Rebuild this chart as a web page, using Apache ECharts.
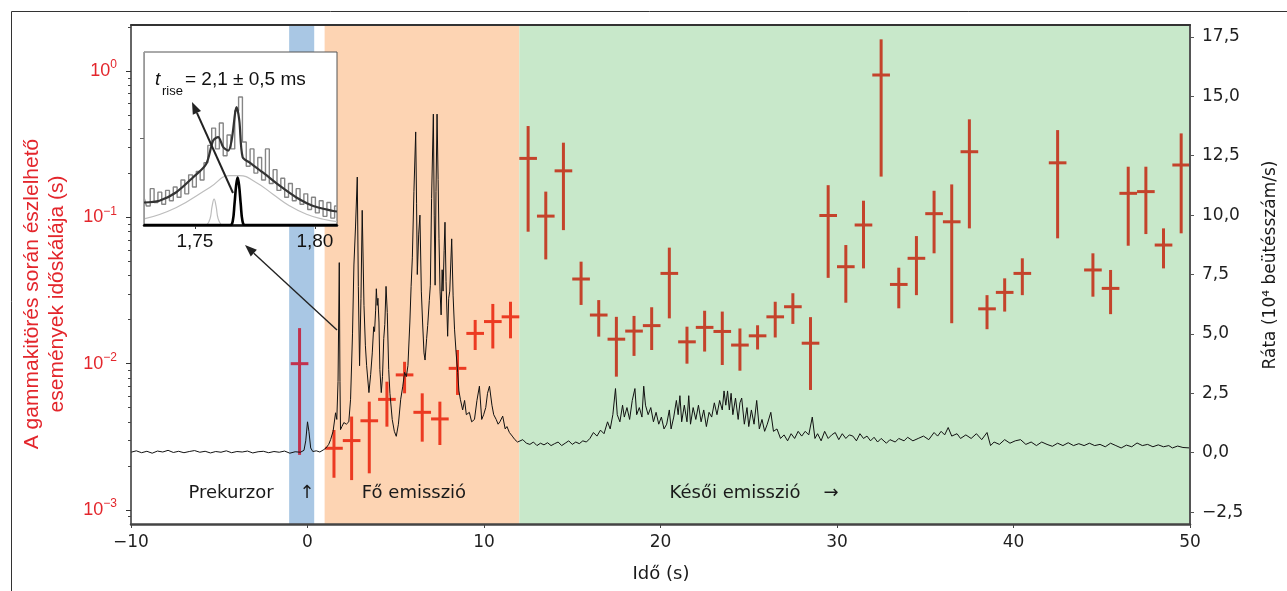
<!DOCTYPE html>
<html>
<head>
<meta charset="utf-8">
<title>Gammakitörés időskálái</title>
<script src="https://cdn.jsdelivr.net/npm/echarts@6/dist/echarts.min.js"></script>
<style>
  html, body { margin: 0; padding: 0; background: #fff; }
  #main { width: 1287px; height: 591px; }
</style>
</head>
<body>
<div id="main"></div>
<script>
// --- adatok ---
// piros keresztek: bin közép (s), időskála (s), alsó és felső hiba (s)
const binT = [-0.45, 1.5, 2.5, 3.5, 4.5, 5.5, 6.5, 7.5, 8.5, 9.5, 10.5, 11.5,
  12.5, 13.5, 14.5, 15.5, 16.5, 17.5, 18.5, 19.5, 20.5, 21.5, 22.5, 23.5, 24.5, 25.5,
  26.5, 27.5, 28.5, 29.5, 30.5, 31.5, 32.5, 33.5, 34.5, 35.5, 36.5, 37.5, 38.5, 39.5,
  40.5, 42.5, 44.5, 45.5, 46.5, 47.5, 48.5, 49.5];
const tau = [0.0100, 0.00264, 0.00298, 0.00407, 0.00570, 0.00838, 0.00465, 0.00419, 0.00929, 0.0161, 0.0194, 0.0209,
  0.253, 0.102, 0.208, 0.0379, 0.0215, 0.0147, 0.0167, 0.0182, 0.0414, 0.0141, 0.0177, 0.0166, 0.0134, 0.0155,
  0.0209, 0.0245, 0.0138, 0.103, 0.0460, 0.0887, 0.940, 0.0348, 0.0525, 0.106, 0.0933, 0.281, 0.0237, 0.0307,
  0.0414, 0.236, 0.0437, 0.0327, 0.146, 0.150, 0.0647, 0.228];
const tauLo = [0.00238, 0.00166, 0.00160, 0.00178, 0.00371, 0.00627, 0.00293, 0.00278, 0.00611, 0.0124, 0.0127, 0.0149,
  0.0798, 0.0516, 0.0818, 0.0252, 0.0153, 0.00815, 0.0113, 0.0124, 0.0204, 0.0100, 0.0121, 0.00979, 0.00895, 0.0125,
  0.0151, 0.0187, 0.00661, 0.0386, 0.0261, 0.0448, 0.190, 0.0239, 0.0294, 0.0568, 0.0189, 0.0841, 0.0172, 0.0227,
  0.0294, 0.0719, 0.0287, 0.0218, 0.0640, 0.0769, 0.0448, 0.0778];
const tauHi = [0.0175, 0.00352, 0.00435, 0.00550, 0.00753, 0.0103, 0.00627, 0.00550, 0.0124, 0.0199, 0.0256, 0.0265,
  0.421, 0.150, 0.324, 0.0498, 0.0272, 0.0209, 0.0212, 0.0243, 0.0621, 0.0179, 0.0230, 0.0227, 0.0174, 0.0183,
  0.0265, 0.0303, 0.0208, 0.166, 0.0647, 0.130, 1.648, 0.0453, 0.0745, 0.152, 0.168, 0.468, 0.0294, 0.0383,
  0.0525, 0.395, 0.0568, 0.0437, 0.222, 0.222, 0.0841, 0.375];

// fénygörbe [idő (s), ráta (10^4 beütés/s)]
const lcPre = [[-10, 0.02], [-9.7, 0.08], [-9.4, 0.0], [-9.1, 0.06], [-8.8, -0.02], [-8.5, 0.07], [-8.2, 0.03],
  [-7.9, 0.1], [-7.6, 0.01], [-7.3, 0.06], [-7.0, 0.0], [-6.7, 0.05], [-6.4, 0.09], [-6.1, 0.02], [-5.8, 0.06],
  [-5.5, -0.01], [-5.2, 0.05], [-4.9, 0.02], [-4.6, 0.08], [-4.3, 0.0], [-4.0, 0.05], [-3.7, 0.03], [-3.4, 0.07],
  [-3.1, -0.01], [-2.8, 0.04], [-2.5, 0.06], [-2.2, 0.0], [-1.9, 0.05], [-1.6, 0.02], [-1.3, 0.07], [-1.0, -0.02],
  [-0.7, 0.04], [-0.4, 0.02], [-0.2, 0.1], [-0.1, 0.5], [0.0, 1.3], [0.08, 0.9], [0.18, 0.2], [0.3, 0.05],
  [0.5, 0.08], [0.7, 0.03], [0.9, 0.12], [1.05, 0.2], [1.2, 0.35], [1.31, 0.55], [1.45, 0.9], [1.59, 1.68],
  [1.66, 1.4], [1.73, 3.0], [1.8, 8.0], [1.84, 3.0], [1.87, 0.97]];
const lcMain = [[1.95, 1.1], [2.06, 1.27], [2.2, 1.2], [2.34, 1.3], [2.44, 2.25], [2.55, 5.0], [2.63, 7.9],
  [2.72, 9.5], [2.82, 11.6], [2.88, 7.0], [2.95, 3.66], [3.03, 6.5], [3.1, 10.2], [3.2, 6.2], [3.28, 4.5],
  [3.35, 3.66], [3.48, 2.53], [3.58, 3.3], [3.67, 4.2], [3.75, 5.3], [3.8, 5.1], [3.86, 6.0], [3.9, 6.9],
  [3.95, 6.2], [3.99, 6.5], [4.05, 5.5], [4.1, 3.5], [4.18, 2.53], [4.25, 3.2], [4.32, 4.8], [4.38, 5.4],
  [4.45, 7.0], [4.52, 5.9], [4.6, 3.5], [4.67, 2.5], [4.8, 1.4], [4.92, 0.9], [5.03, 0.69], [5.15, 1.2],
  [5.28, 2.25], [5.4, 2.8], [5.5, 3.38], [5.6, 3.2], [5.69, 3.66], [5.8, 5.5], [5.87, 7.0], [5.94, 8.2],
  [6.03, 11.0], [6.13, 13.5], [6.18, 10.5], [6.22, 7.5], [6.3, 9.2], [6.37, 10.0], [6.45, 6.8], [6.52, 5.5],
  [6.6, 4.2], [6.66, 3.9], [6.75, 4.8], [6.81, 5.35], [6.9, 6.4], [6.96, 7.05], [7.03, 10.7], [7.13, 14.25],
  [7.18, 10.0], [7.23, 7.05], [7.28, 11.0], [7.34, 14.25], [7.4, 11.5], [7.45, 9.0], [7.51, 6.8], [7.57, 5.8],
  [7.63, 7.7], [7.68, 6.8], [7.74, 8.5], [7.79, 9.7], [7.85, 7.2], [7.94, 4.9], [8.0, 6.5], [8.06, 6.8],
  [8.17, 9.0], [8.25, 6.6], [8.33, 5.2], [8.42, 4.2], [8.51, 3.38], [8.58, 2.6], [8.66, 2.25], [8.79, 1.8],
  [8.9, 2.2], [9.0, 1.6], [9.17, 1.7], [9.3, 1.3], [9.46, 1.4], [9.6, 2.2], [9.74, 2.8], [9.87, 1.4],
  [9.98, 1.6], [10.1, 1.9], [10.2, 2.5], [10.31, 2.8], [10.45, 2.0], [10.55, 1.6], [10.69, 1.4], [10.8, 1.2],
  [10.9, 1.3], [11.06, 1.54], [11.2, 1.0], [11.3, 1.1], [11.44, 0.85], [11.6, 0.7], [11.75, 0.55], [11.9, 0.45],
  [12.0, 0.41]];
const lcLate = [[12.2, 0.55], [12.4, 0.4], [12.6, 0.35], [12.8, 0.45], [13.0, 0.3], [13.2, 0.4], [13.4, 0.33],
  [13.6, 0.42], [13.8, 0.3], [14.0, 0.38], [14.2, 0.45], [14.4, 0.3], [14.6, 0.4], [14.8, 0.5], [15.0, 0.35],
  [15.2, 0.45], [15.4, 0.38], [15.6, 0.5], [15.8, 0.45], [16.0, 0.6], [16.2, 0.85], [16.4, 0.7], [16.6, 0.95],
  [16.8, 0.8], [17.0, 1.3], [17.15, 1.0], [17.3, 1.6], [17.45, 2.7], [17.55, 1.6], [17.7, 1.3], [17.85, 2.0],
  [17.95, 1.5], [18.1, 1.9], [18.25, 1.4], [18.4, 2.2], [18.55, 2.7], [18.65, 1.6], [18.8, 1.9], [18.95, 1.5],
  [19.05, 2.8], [19.15, 2.0], [19.3, 1.6], [19.45, 1.9], [19.6, 1.3], [19.75, 1.7], [19.9, 1.2], [20.05, 1.5],
  [20.2, 1.0], [20.35, 1.2], [20.5, 1.8], [20.6, 1.0], [20.75, 1.5], [20.9, 2.2], [21.0, 1.6], [21.1, 2.4],
  [21.2, 1.3], [21.35, 2.0], [21.5, 1.3], [21.6, 2.4], [21.7, 1.2], [21.85, 1.9], [22.0, 1.4], [22.15, 2.0],
  [22.3, 1.3], [22.45, 1.8], [22.6, 1.1], [22.75, 1.7], [22.9, 1.5], [23.05, 2.1], [23.2, 1.6], [23.35, 2.2],
  [23.5, 1.8], [23.6, 2.6], [23.7, 2.0], [23.8, 2.6], [23.9, 1.8], [24.0, 2.5], [24.1, 1.6], [24.25, 2.3],
  [24.4, 1.4], [24.5, 2.1], [24.6, 2.3], [24.75, 1.2], [24.9, 1.9], [25.0, 1.1], [25.15, 1.8], [25.3, 1.2],
  [25.45, 2.2], [25.6, 1.0], [25.75, 1.4], [25.9, 0.9], [26.05, 1.2], [26.25, 1.7], [26.4, 0.9], [26.6, 1.0],
  [26.8, 0.6], [27.0, 0.75], [27.2, 0.5], [27.4, 0.8], [27.6, 0.6], [27.8, 0.9], [28.0, 0.7], [28.2, 0.9],
  [28.4, 0.75], [28.6, 1.5], [28.75, 0.6], [28.9, 0.8], [29.1, 0.5], [29.3, 0.9], [29.5, 0.6], [29.7, 0.75],
  [29.9, 0.85], [30.1, 0.55], [30.3, 0.8], [30.5, 0.6], [30.7, 0.75], [30.9, 0.7], [31.1, 0.5], [31.3, 0.8],
  [31.5, 0.6], [31.7, 0.7], [31.9, 0.5], [32.1, 0.65], [32.3, 0.45], [32.5, 0.6], [32.8, 0.4], [33.0, 0.55],
  [33.3, 0.45], [33.5, 0.6], [33.8, 0.5], [34.0, 0.65], [34.3, 0.5], [34.6, 0.6], [34.9, 0.7], [35.2, 0.55],
  [35.5, 0.85], [35.7, 0.7], [35.9, 0.9], [36.1, 0.75], [36.3, 1.06], [36.5, 0.7], [36.8, 0.8], [37.0, 0.6],
  [37.3, 0.75], [37.6, 0.6], [37.9, 0.8], [38.2, 0.55], [38.5, 0.85], [38.7, 0.3], [38.9, 0.45], [39.2, 0.35],
  [39.5, 0.55], [39.8, 0.4], [40.1, 0.5], [40.4, 0.55], [40.7, 0.35], [41.0, 0.45], [41.3, 0.3], [41.6, 0.45],
  [41.9, 0.35], [42.2, 0.27], [42.5, 0.4], [42.8, 0.3], [43.1, 0.42], [43.4, 0.3], [43.7, 0.38], [44.0, 0.3],
  [44.3, 0.4], [44.6, 0.3], [44.9, 0.35], [45.2, 0.25], [45.5, 0.4], [45.8, 0.3], [46.1, 0.2], [46.4, 0.32],
  [46.7, 0.25], [47.0, 0.41], [47.3, 0.3], [47.6, 0.35], [47.9, 0.25], [48.2, 0.33], [48.5, 0.25], [48.8, 0.3],
  [49.0, 0.2], [49.3, 0.28], [49.6, 0.22], [50.0, 0.2]];

// betét: 1,73-1,81 s részlet
const insetHist = [[1.7290, 1.5], [1.7306, 1.1], [1.7322, 2.1], [1.7338, 1.3], [1.7354, 1.9], [1.7370, 1.2],
  [1.7386, 2.0], [1.7402, 1.4], [1.7418, 2.2], [1.7434, 1.6], [1.7450, 2.6], [1.7466, 1.8], [1.7482, 2.9],
  [1.7498, 2.2], [1.7514, 3.1], [1.7530, 2.6], [1.7546, 3.6], [1.7562, 4.6], [1.7578, 5.6], [1.7594, 4.4],
  [1.7610, 5.9], [1.7626, 4.0], [1.7642, 5.2], [1.7658, 4.4], [1.7674, 6.6], [1.7690, 7.4], [1.7706, 4.8],
  [1.7722, 3.4], [1.7738, 4.4], [1.7754, 3.0], [1.7770, 3.9], [1.7786, 2.6], [1.7802, 4.4], [1.7818, 2.4],
  [1.7834, 3.2], [1.7850, 2.0], [1.7866, 2.7], [1.7882, 1.6], [1.7898, 2.4], [1.7914, 1.4], [1.7930, 2.1],
  [1.7946, 1.2], [1.7962, 1.8], [1.7978, 0.9], [1.7994, 1.6], [1.8010, 0.7], [1.8026, 1.4], [1.8042, 0.5],
  [1.8058, 1.3], [1.8074, 0.4], [1.8090, 1.1]];
const insetFit = [[1.7288, 1.3], [1.7352, 1.4], [1.7421, 1.88], [1.7492, 2.75], [1.7547, 3.53], [1.7576, 4.88],
  [1.7597, 5.08], [1.7618, 4.5], [1.7639, 4.3], [1.7653, 4.88], [1.7674, 6.82], [1.7685, 6.05], [1.7699, 3.91],
  [1.7727, 3.62], [1.7783, 3.04], [1.7853, 2.27], [1.7923, 1.59], [1.7993, 1.1], [1.8077, 0.81], [1.8092, 0.78]];
const insetBroad = [[1.7288, 0.35], [1.7421, 1.0], [1.7562, 2.17], [1.7646, 2.85], [1.7685, 2.85], [1.7755, 2.46],
  [1.7825, 1.78], [1.7895, 1.1], [1.7965, 0.62], [1.8035, 0.33], [1.8092, 0.2]];
const insetSmall = [[1.7550, 0], [1.7563, 0.35], [1.7572, 1.1], [1.7580, 1.49], [1.7588, 1.1], [1.7597, 0.35], [1.7610, 0]];
const insetPulse = [[1.7288, 0], [1.7648, 0], [1.7658, 0.25], [1.7665, 1.2], [1.7672, 2.3], [1.7678, 2.75],
  [1.7684, 2.3], [1.7691, 1.2], [1.7698, 0.25], [1.7708, 0], [1.8092, 0]];

// tengelyek
const rateTicks = [-2.5, 0, 2.5, 5, 7.5, 10, 12.5, 15, 17.5];
const decades = [-3, -2, -1, 0];
const insetTicks = [1.75, 1.80];
const bands = [[-1.04, 0.38], [0.97, 12.0], [12.0, 50]];
const bandColors = ['#a9c7e4', '#fdd4b3', '#c8e8ca'];

const RED = '#e3262c';
const BLACK_FONT = 'DejaVu Sans';
const ARIAL = 'Liberation Sans';

// log tengely kis osztásai
let minorTicks = [];
for (let n = -4; n <= 0; n++) {
  for (let k = 2; k <= 9; k++) {
    let v = n + Math.log10(k);
    if (v > -3.096 && v < 0.315) minorTicks.push(v);
  }
}

let crossData = binT.map((t, i) => [t, Math.log10(tau[i]), Math.log10(tauLo[i]), Math.log10(tauHi[i])]);

function crossColor(t) {
  if (t < 0) return '#c2304c';
  if (t < 12) return '#ec3a22';
  return '#c4432b';
}

function renderCross(params, api) {
  let t = api.value(0);
  let c = api.coord([t, api.value(1)]);
  let lo = api.coord([t, api.value(2)]);
  let hi = api.coord([t, api.value(3)]);
  let a = api.coord([t - 0.5, api.value(1)]);
  let b = api.coord([t + 0.5, api.value(1)]);
  let style = { stroke: crossColor(t), lineWidth: 3 };
  return {
    type: 'group',
    children: [
      { type: 'line', shape: { x1: c[0], y1: hi[1], x2: c[0], y2: lo[1] }, style: style },
      { type: 'line', shape: { x1: a[0], y1: c[1], x2: b[0], y2: c[1] }, style: style }
    ]
  };
}

function minusFmt(v) {
  return v < 0 ? '\u2212' + Math.abs(v) : String(v);
}

function arrow(x1, y1, x2, y2, w) {
  let dx = x2 - x1, dy = y2 - y1, len = Math.hypot(dx, dy);
  let ux = dx / len, uy = dy / len;
  let bx = x2 - ux * 12, by = y2 - uy * 12;
  return [
    { type: 'line', silent: true, z: 30, shape: { x1: x1, y1: y1, x2: bx, y2: by }, style: { stroke: '#222', lineWidth: w } },
    { type: 'polygon', silent: true, z: 30,
      shape: { points: [[x2, y2], [bx - uy * 4.5, by + ux * 4.5], [bx + uy * 4.5, by - ux * 4.5]] },
      style: { fill: '#222' } }
  ];
}

function txt(text, x, y, font, color, rot, align) {
  return {
    type: 'text', silent: true, z: 30, x: x, y: y, rotation: rot || 0,
    style: { text: text, font: font, fill: color, align: align || 'center', verticalAlign: 'middle',
      textAlign: align || 'center', textVerticalAlign: 'middle' }
  };
}

let chart = echarts.init(document.getElementById('main'));

let option = {
  animation: false,
  grid: [
    { left: 131, right: 97, top: 25, bottom: 67 },
    { left: 144, top: 52, width: 193, height: 173 }
  ],
  xAxis: [
    {
      gridIndex: 0, type: 'value', position: 'bottom', min: -10, max: 50, interval: 10, z: 10,
      axisLine: { onZero: false, lineStyle: { color: '#444', width: 2.5 } },
      axisTick: { length: 4, lineStyle: { color: '#444' } },
      axisLabel: { formatter: minusFmt, margin: 10, fontFamily: BLACK_FONT, fontSize: 17, color: '#1f1f1f' },
      splitLine: { show: false }
    },
    {
      gridIndex: 0, type: 'value', position: 'top', min: -10, max: 50, z: 10,
      axisLine: { onZero: false, lineStyle: { color: '#333', width: 2 } },
      axisTick: { show: false }, axisLabel: { show: false }, splitLine: { show: false }
    },
    {
      gridIndex: 1, type: 'value', min: 1.7288, max: 1.8092, z: 12,
      axisLine: { onZero: false, lineStyle: { color: '#111', width: 2.5 } },
      axisTick: { customValues: insetTicks, length: 4, lineStyle: { color: '#333' } },
      axisLabel: { customValues: insetTicks, formatter: v => v.toFixed(2).replace('.', ','),
        margin: 7, fontFamily: ARIAL, fontSize: 19, color: '#111' },
      splitLine: { show: false }
    }
  ],
  yAxis: [
    {
      gridIndex: 0, type: 'value', position: 'left', min: -3.096, max: 0.315, z: 10,
      axisLine: { show: true, onZero: false, lineStyle: { color: '#333', width: 1.5 } },
      axisTick: { show: true, customValues: decades, length: 5, lineStyle: { color: '#333' } },
      axisLabel: {
        customValues: decades, margin: 14,
        formatter: v => '{b|10}{s|' + (Math.round(v) === 0 ? '0' : '\u2212' + Math.abs(Math.round(v))) + '}',
        rich: {
          b: { fontFamily: ARIAL, fontSize: 18, color: RED },
          s: { fontFamily: ARIAL, fontSize: 12, color: RED, padding: [0, 0, 12, 0] }
        }
      },
      splitLine: { show: false }
    },
    {
      gridIndex: 0, type: 'value', position: 'right', min: -3, max: 18, z: 10,
      axisLine: { show: true, onZero: false, lineStyle: { color: '#555', width: 2 } },
      axisTick: { show: true, customValues: rateTicks, length: 4, lineStyle: { color: '#555' } },
      axisLabel: {
        customValues: rateTicks, margin: 12, fontFamily: BLACK_FONT, fontSize: 17, color: '#1f1f1f',
        formatter: v => (v < 0 ? '\u2212' : '') + Math.abs(v).toFixed(1).replace('.', ',')
      },
      splitLine: { show: false }
    },
    {
      gridIndex: 0, type: 'value', position: 'left', min: -3.096, max: 0.315, z: 10,
      axisLine: { show: false, onZero: false },
      axisTick: { show: true, customValues: minorTicks, length: 3, lineStyle: { color: '#444' } },
      axisLabel: { show: false },
      splitLine: { show: false }
    },
    {
      gridIndex: 1, type: 'value', min: 0, max: 10, z: 12,
      axisLine: { show: true, onZero: false, lineStyle: { color: '#999', width: 1 } },
      axisTick: { show: true, customValues: [5], length: 4, lineStyle: { color: '#666' } },
      axisLabel: { show: false },
      splitLine: { show: false }
    }
  ],
  series: [
    {
      name: 'ráta', type: 'line', xAxisIndex: 0, yAxisIndex: 1, z: 3,
      data: lcPre.concat(lcMain, lcLate),
      showSymbol: false, lineStyle: { color: '#111', width: 1 },
      markArea: {
        silent: true,
        data: bands.map((b, i) => [{ xAxis: b[0], itemStyle: { color: bandColors[i] } }, { xAxis: b[1] }])
      }
    },
    {
      name: 'időskála', type: 'custom', xAxisIndex: 0, yAxisIndex: 0, z: 2,
      renderItem: renderCross,
      encode: { x: 0, y: [1, 2, 3] },
      data: crossData
    },
    {
      type: 'line', xAxisIndex: 2, yAxisIndex: 3, z: 10, data: insetBroad, smooth: 0.5,
      showSymbol: false, lineStyle: { color: '#bdbdbd', width: 1.2 }
    },
    {
      type: 'line', xAxisIndex: 2, yAxisIndex: 3, z: 10, data: insetSmall, smooth: 0.5,
      showSymbol: false, lineStyle: { color: '#bdbdbd', width: 1.2 }
    },
    {
      type: 'line', xAxisIndex: 2, yAxisIndex: 3, z: 11, data: insetHist, step: 'middle',
      showSymbol: false, lineStyle: { color: '#858585', width: 1.4 }
    },
    {
      type: 'line', xAxisIndex: 2, yAxisIndex: 3, z: 12, data: insetFit, smooth: 0.3,
      showSymbol: false, lineStyle: { color: '#333', width: 2.2 }
    },
    {
      type: 'line', xAxisIndex: 2, yAxisIndex: 3, z: 13, data: insetPulse, smooth: 0.4,
      showSymbol: false, lineStyle: { color: '#000', width: 2.6 }
    }
  ],
  graphic: {
    elements: [
      { type: 'rect', silent: true, z: 0, shape: { x: 11.5, y: 11.5, width: 1400, height: 700 },
        style: { fill: 'none', stroke: '#333', lineWidth: 1 } },
      { type: 'rect', silent: true, z: 3, shape: { x: 144, y: 52, width: 193, height: 173 },
        style: { fill: '#fff', stroke: '#555', lineWidth: 1 } },
      txt('t', 155, 80, 'italic 19px "Liberation Sans"', '#111', 0, 'left'),
      txt('rise', 162, 91, '13px "Liberation Sans"', '#111', 0, 'left'),
      txt('= 2,1 \u00b1 0,5 ms', 185, 80, '19px "Liberation Sans"', '#111', 0, 'left'),
      ...arrow(233, 193, 192, 102, 2),
      ...arrow(337, 330, 245, 245, 1.4),
      txt('Prekurzor', 231, 493, '18px "DejaVu Sans"', '#1a1a1a'),
      txt('\u2191', 307, 493, '18px "DejaVu Sans"', '#1a1a1a'),
      txt('Fő emisszió', 414, 493, '18px "DejaVu Sans"', '#1a1a1a'),
      txt('Késői emisszió', 735, 493, '18px "DejaVu Sans"', '#1a1a1a'),
      txt('\u2192', 831, 493, '18px "DejaVu Sans"', '#1a1a1a'),
      txt('Idő (s)', 661, 574, '18px "DejaVu Sans"', '#1a1a1a'),
      txt('Ráta (10\u2074 beütésszám/s)', 1271, 265, '17px "DejaVu Sans"', '#1a1a1a', Math.PI / 2),
      txt('A gammakitörés során észlelhető', 32, 294, '21px "Liberation Sans"', RED, Math.PI / 2),
      txt('események időskálája (s)', 57, 294, '21px "Liberation Sans"', RED, Math.PI / 2)
    ]
  }
};

chart.setOption(option);
</script>
</body>
</html>
